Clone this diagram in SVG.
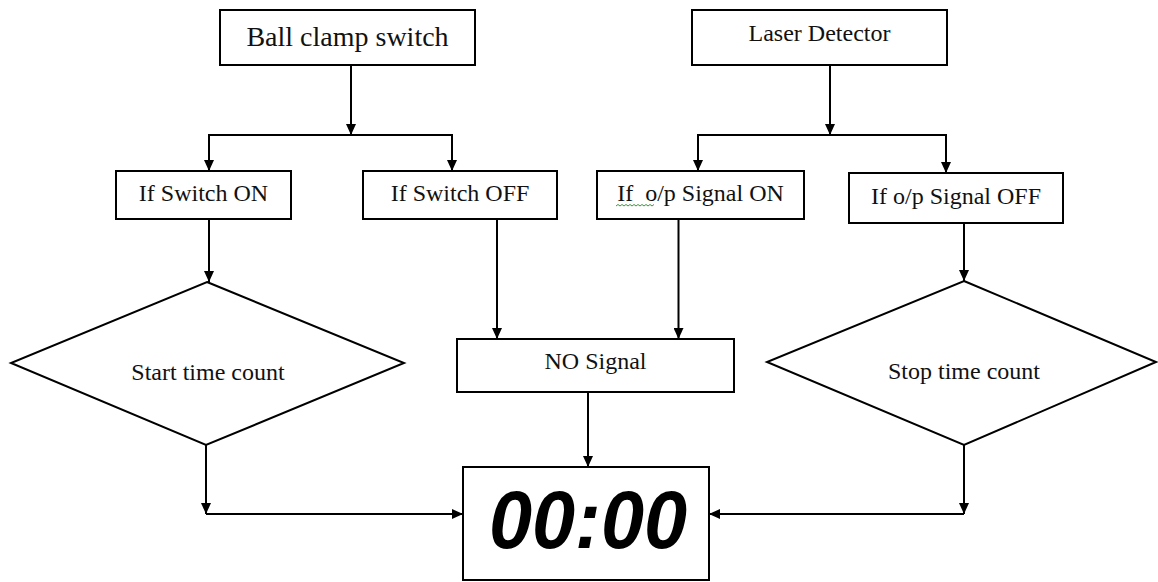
<svg xmlns="http://www.w3.org/2000/svg" width="1158" height="582" viewBox="0 0 1158 582">
<style>
.box{fill:#fff;stroke:#000;stroke-width:2}
.lbl{font-family:"Liberation Serif","Times New Roman",serif;font-size:24px;fill:#111;text-anchor:middle}
.con{fill:none;stroke:#000;stroke-width:2}
.digits{font-family:"Liberation Sans",Arial,sans-serif;font-style:italic;font-weight:bold;font-size:82px;fill:#000}
</style>
<defs>
<marker id="arr" markerUnits="userSpaceOnUse" markerWidth="12" markerHeight="10" refX="11" refY="5" orient="auto">
<path d="M0,0 L11,5 L0,10 z" fill="#000"/>
</marker>
</defs>
<rect width="1158" height="582" fill="#fff"/>
<g id="connectors">
<path class="con" d="M351,65 V135" marker-end="url(#arr)"/>
<path class="con" d="M351,135 H209 V171" marker-end="url(#arr)"/>
<path class="con" d="M351,135 H452 V171" marker-end="url(#arr)"/>
<path class="con" d="M830,65 V135" marker-end="url(#arr)"/>
<path class="con" d="M830,135 H698 V171" marker-end="url(#arr)"/>
<path class="con" d="M830,135 H946 V173" marker-end="url(#arr)"/>
<path class="con" d="M209,219 V282" marker-end="url(#arr)"/>
<path class="con" d="M497,219 V339" marker-end="url(#arr)"/>
<path class="con" d="M678.5,219 V339" marker-end="url(#arr)"/>
<path class="con" d="M964,223 V281" marker-end="url(#arr)"/>
<path class="con" d="M588,392 V467" marker-end="url(#arr)"/>
<path class="con" d="M206,445 V514" marker-end="url(#arr)"/>
<path class="con" d="M206,514 H463" marker-end="url(#arr)"/>
<path class="con" d="M964,445 V514" marker-end="url(#arr)"/>
<path class="con" d="M964,514 H709" marker-end="url(#arr)"/>
</g>
<g id="ball-clamp-switch">
<rect class="box" x="220" y="10" width="255" height="55"/>
<text class="lbl" x="347.5" y="46" style="font-size:28px">Ball clamp switch</text>
</g>
<g id="laser-detector">
<rect class="box" x="692" y="10" width="255" height="55"/>
<text class="lbl" x="819.5" y="41">Laser Detector</text>
</g>
<g id="if-switch-on">
<rect class="box" x="116" y="171" width="175" height="48"/>
<text class="lbl" x="203.5" y="201">If Switch ON</text>
</g>
<g id="if-switch-off">
<rect class="box" x="363" y="171" width="194" height="48"/>
<text class="lbl" x="460" y="201">If Switch OFF</text>
</g>
<g id="if-op-signal-on">
<rect class="box" x="597" y="171" width="207" height="48"/>
<text class="lbl" x="700.5" y="201" xml:space="preserve">If  o/p Signal ON</text>
<path d="M616,206 l2,-1.5 l2,1.5 l2,-1.5 l2,1.5 l2,-1.5 l2,1.5 l2,-1.5 l2,1.5 l2,-1.5 l2,1.5 l2,-1.5 l2,1.5 l2,-1.5 l2,1.5 l2,-1.5 l2,1.5 l2,-1.5 l2,1.5 l2,-1.5" fill="none" stroke="#3a9a3a" stroke-width="1"/>
</g>
<g id="if-op-signal-off">
<rect class="box" x="849" y="173" width="214" height="50"/>
<text class="lbl" x="956" y="204">If o/p Signal OFF</text>
</g>
<g id="start-time-count">
<polygon class="box" points="207,282 404,363 206,445 11,363"/>
<text class="lbl" x="208" y="380">Start time count</text>
</g>
<g id="stop-time-count">
<polygon class="box" points="964,281 1156,362 964,445 767,362"/>
<text class="lbl" x="964" y="379">Stop time count</text>
</g>
<g id="no-signal">
<rect class="box" x="457" y="339" width="277" height="53"/>
<text class="lbl" x="595.5" y="369">NO Signal</text>
</g>
<g id="timer-display">
<rect class="box" x="463" y="467" width="246" height="113"/>
<text class="digits" x="489" y="548" textLength="198" lengthAdjust="spacingAndGlyphs">00:00</text>
</g>
</svg>
